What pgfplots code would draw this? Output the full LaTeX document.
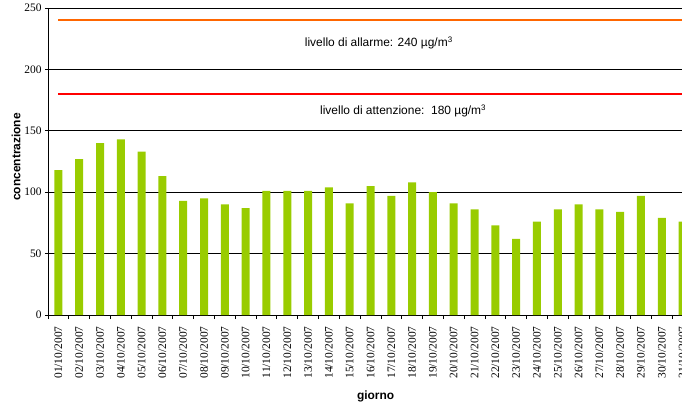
\documentclass[border=0pt]{standalone}
\usepackage{fontspec}
\setmainfont{Liberation Serif}
\newfontfamily\arial{Liberation Sans}
\usepackage{pgfplots}
\pgfplotsset{compat=1.18}
\definecolor{barg}{HTML}{99CC00}
\definecolor{allarme}{HTML}{FF6600}
\definecolor{attenz}{HTML}{FF0000}

\begin{document}
\begin{tikzpicture}
\useasboundingbox (-48bp,-88bp) rectangle (634bp,315bp);
\clip (-48bp,-88bp) rectangle (634bp,315bp);
\begin{axis}[
  scale only axis, width=645bp, height=307bp,
  xmin=0.5, xmax=31.5, ymin=0, ymax=250,
  axis x line*=bottom, axis y line*=left,
  axis line style={black, line width=0.8bp},
  ytick={0,50,...,250},
  ymajorgrids, grid style={black, line width=0.8bp},
  xtick={1,...,31},
  xticklabels={01/10/2007,02/10/2007,03/10/2007,04/10/2007,05/10/2007,06/10/2007,07/10/2007,08/10/2007,09/10/2007,10/10/2007,11/10/2007,12/10/2007,13/10/2007,14/10/2007,15/10/2007,16/10/2007,17/10/2007,18/10/2007,19/10/2007,20/10/2007,21/10/2007,22/10/2007,23/10/2007,24/10/2007,25/10/2007,26/10/2007,27/10/2007,28/10/2007,29/10/2007,30/10/2007,31/10/2007},
  minor xtick={0.5,1.5,...,31.5},
  every major x tick/.append style={draw=none},
  tick align=outside, major tick length=3bp, minor tick length=4bp,
  tick style={black, line width=0.8bp},
  tick label style={font=\fontsize{11.5}{12}\selectfont},
  /pgf/number format/assume math mode=true,
  xticklabel style={rotate=90, anchor=east},
  xticklabel shift=5bp,
  ylabel={concentrazione},
  ylabel style={font=\arial\bfseries\fontsize{12}{14}\selectfont, at={(axis description cs:-0.0372,0.515)}, anchor=south},
  xlabel={giorno},
  xlabel style={font=\arial\bfseries\fontsize{12}{14}\selectfont, at={(axis description cs:0.508,-0.264)}, anchor=center},
]
\addplot[ybar, bar width=8bp, fill=barg, draw=none] coordinates {
(1,118)(2,127)(3,140)(4,143)(5,133)(6,113)(7,93)(8,95)(9,90)(10,87)
(11,101)(12,101)(13,101)(14,104)(15,91)(16,105)(17,97)(18,108)(19,100)(20,91)
(21,86)(22,73)(23,62)(24,76)(25,86)(26,90)(27,86)(28,84)(29,97)(30,79)(31,76)
};
\addplot[allarme, line width=1.8bp] coordinates {(1,240)(32,240)};
\addplot[attenz, line width=1.8bp] coordinates {(1,180)(32,180)};
\node[font=\arial\fontsize{12}{14}\selectfont] at (axis cs:16.4,221.5) {livello di allarme: 240 µg/m\textsuperscript{3}};
\node[font=\arial\fontsize{12}{14}\selectfont] at (axis cs:17.57,166) {livello di attenzione:\ \ 180 µg/m\textsuperscript{3}};
\end{axis}
\end{tikzpicture}
\end{document}
